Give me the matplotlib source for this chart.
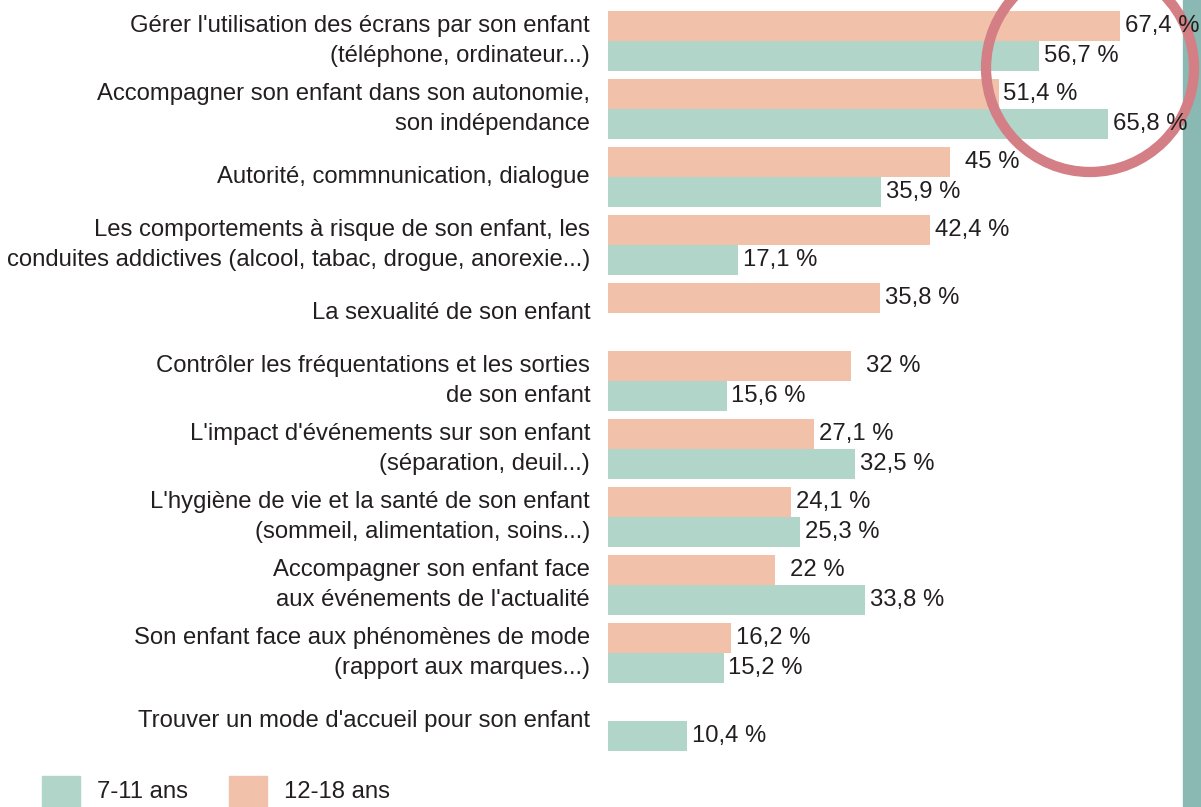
import matplotlib.pyplot as plt
from matplotlib.patches import Rectangle, Ellipse

plt.rcParams['font.family'] = ['Liberation Sans', 'DejaVu Sans']

# Data
categories = [
    "Gérer l'utilisation des écrans par son enfant\n(téléphone, ordinateur...)",
    "Accompagner son enfant dans son autonomie,\nson indépendance",
    "Autorité, commnunication, dialogue",
    "Les comportements à risque de son enfant, les\nconduites addictives (alcool, tabac, drogue, anorexie...)",
    "La sexualité de son enfant",
    "Contrôler les fréquentations et les sorties\nde son enfant",
    "L'impact d'événements sur son enfant\n(séparation, deuil...)",
    "L'hygiène de vie et la santé de son enfant\n(sommeil, alimentation, soins...)",
    "Accompagner son enfant face\naux événements de l'actualité",
    "Son enfant face aux phénomènes de mode\n(rapport aux marques...)",
    "Trouver un mode d'accueil pour son enfant",
]
ados = [67.4, 51.4, 45, 42.4, 35.8, 32, 27.1, 24.1, 22, 16.2, None]     # 12-18 ans
enfants = [56.7, 65.8, 35.9, 17.1, None, 15.6, 32.5, 25.3, 33.8, 15.2, 10.4]  # 7-11 ans
legend_labels = ["7-11 ans", "12-18 ans"]

c_orange = '#f2c1aa'
c_green = '#b1d5c8'
c_teal = '#89b9b2'
c_ring = '#d47f85'
c_text = '#231f20'
fs = 17.2

W, H = 1201, 807
fig = plt.figure(figsize=(W / 100, H / 100), dpi=100)

px_per_unit = 7.6
pitch = 68.0
ax = fig.add_axes([608 / W, 0, (W - 608) / W, 1])
ax.set_facecolor('none')
ax.set_xlim(0, (W - 608) / px_per_unit)
ax.set_ylim((H - 41) / pitch, -41 / pitch)
ax.axis('off')

# background strip on the right
ax.add_patch(Rectangle((1183 / W, 0), 18 / W, 1, transform=fig.transFigure,
                       color=c_teal, zorder=1, clip_on=False))

bh = 30 / pitch
off = bh / 2
lab_off = 42 / px_per_unit
for i, (a, e) in enumerate(zip(ados, enfants)):
    if a is not None:
        ax.barh(i - off, a, height=bh, color=c_orange, zorder=2)
        ax.text(a + lab_off, i - off, f"{a:g}".replace('.', ',') + " %",
                ha='center', va='center', fontsize=fs, color=c_text, zorder=4, clip_on=False)
    if e is not None:
        ax.barh(i + off, e, height=bh, color=c_green, zorder=2)
        ax.text(e + lab_off, i + off, f"{e:g}".replace('.', ',') + " %",
                ha='center', va='center', fontsize=fs, color=c_text, zorder=4, clip_on=False)

lx = -18 / px_per_unit
for i, cat in enumerate(categories):
    lines = cat.split('\n')
    if len(lines) == 2:
        ax.text(lx, i - off, lines[0], ha='right', va='center', fontsize=fs, color=c_text, clip_on=False)
        ax.text(lx, i + off, lines[1], ha='right', va='center', fontsize=fs, color=c_text, clip_on=False)
    else:
        ax.text(lx, i, lines[0], ha='right', va='center', fontsize=fs, color=c_text, clip_on=False)

# highlight ring
r = 104
ax.add_patch(Ellipse((1090 / W, 1 - 68 / H), 2 * r / W, 2 * r / H, transform=fig.transFigure,
                     fill=False, edgecolor=c_ring, linewidth=7.4, zorder=3, clip_on=False))

# legend
for x0, col, lab in [(42, c_green, legend_labels[0]), (229, c_orange, legend_labels[1])]:
    fig.add_artist(Rectangle((x0 / W, 0), 38 / W, 31 / H, transform=fig.transFigure, color=col))
    fig.text((x0 + 55) / W, 1 - 792 / H, lab, ha='left', va='center', fontsize=fs, color=c_text)

fig.savefig('out.png', dpi=100)
